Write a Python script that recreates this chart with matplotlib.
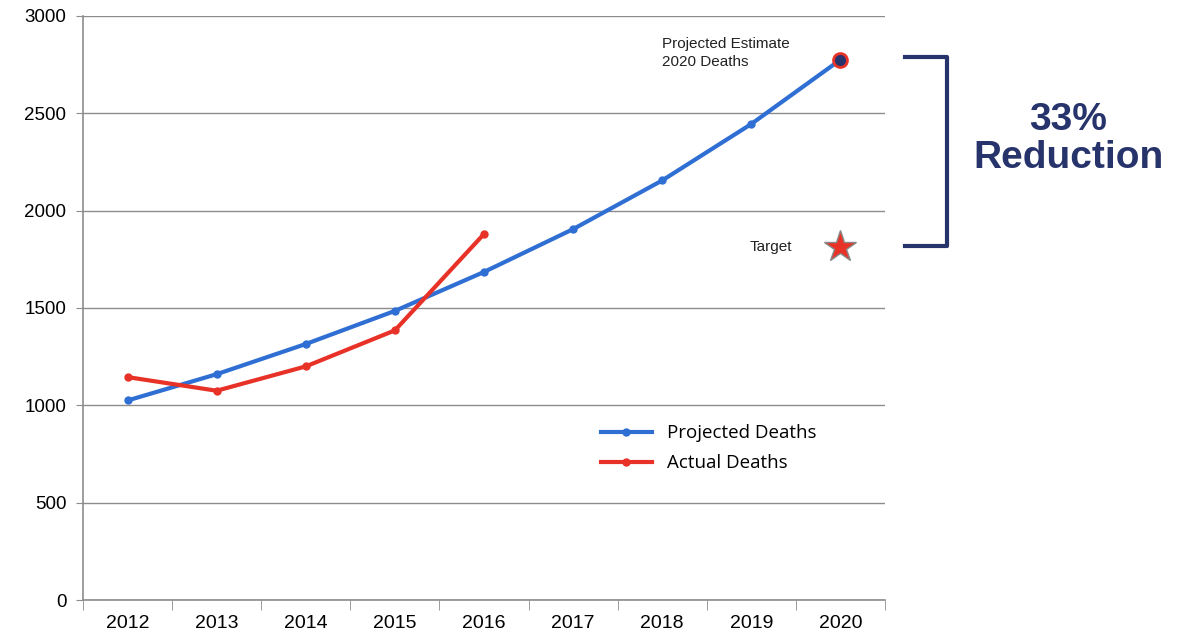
import matplotlib
matplotlib.use("Agg")
import matplotlib.pyplot as plt

years = ["2012", "2013", "2014", "2015", "2016", "2017", "2018", "2019", "2020"]
projected = [1025, 1160, 1315, 1485, 1685, 1905, 2155, 2445, 2775]
actual_years = ["2012", "2013", "2014", "2015", "2016"]
actual = [1145, 1075, 1200, 1385, 1880]
target_year = "2020"
target = 1815

blue = "#2f6fd3"
red = "#e83228"
navy = "#27336b"
grey = "#8c8c8c"

plt.rcParams["font.family"] = ["Liberation Sans", "DejaVu Sans"]

fig = plt.figure(figsize=(11.83, 6.34), dpi=100)
ax = fig.add_axes([0.0702, 0.0536, 0.6778, 0.9212])

xp = list(range(len(years)))
xa = [years.index(y) for y in actual_years]
ax.plot(xp, projected, color=blue, lw=3, marker="o", ms=5, label="Projected Deaths", zorder=3)
ax.plot(xa, actual, color=red, lw=3, marker="o", ms=5, label="Actual Deaths", zorder=4)

# 2020 estimate dot and target star
ax.plot(years.index(target_year), projected[-1], marker="o", ms=10, color=navy,
        mec=red, mew=2, zorder=5)
ax.plot(years.index(target_year), target, marker="*", ms=24, color=red,
        mec="#888888", mew=1, zorder=5)

ax.text(6.0, projected[-1] + 35, "Projected Estimate\n2020 Deaths", fontsize=11,
        color="#222222", va="center", ha="left", linespacing=1.3)
ax.text(7.46, target, "Target", fontsize=11, color="#222222", va="center", ha="right")

ax.set_xlim(-0.5, len(years) - 0.5)
ax.set_ylim(0, 3000)
ax.set_yticks(range(0, 3001, 500))
ax.set_xticks(xp)
ax.set_xticklabels(years)
ax.set_xticks([i - 0.5 for i in range(len(years) + 1)], minor=True)
ax.tick_params(axis="x", which="major", length=0, labelsize=14, pad=11)
ax.tick_params(axis="x", which="minor", length=7, color=grey)
ax.tick_params(axis="y", length=5, color=grey, labelsize=13.5, pad=7)
ax.yaxis.grid(True, color=grey, lw=1)
ax.set_axisbelow(True)
for s in ["top", "right"]:
    ax.spines[s].set_visible(False)
for s in ["left", "bottom"]:
    ax.spines[s].set_color(grey)
    ax.spines[s].set_linewidth(1.2)

leg = ax.legend(loc="upper left", bbox_to_anchor=(0.625, 0.33), frameon=False,
                handlelength=2.7, labelspacing=0.65, prop={"family": "Open Sans", "size": 13.5})

# bracket for the reduction
bx0, bx1 = 905 / 1183, 947 / 1183
ytop, ybot = 1 - 57 / 634, 1 - 246 / 634
fig.add_artist(plt.Line2D([bx0, bx1, bx1, bx0], [ytop, ytop, ybot, ybot],
                          color=navy, lw=3, transform=fig.transFigure))
fig.text(1068 / 1183, 1 - 139 / 634, "33%\nReduction", fontsize=28, fontweight="bold",
         color=navy, ha="center", va="center", linespacing=1.1)

fig.savefig("out.png", dpi=100)
